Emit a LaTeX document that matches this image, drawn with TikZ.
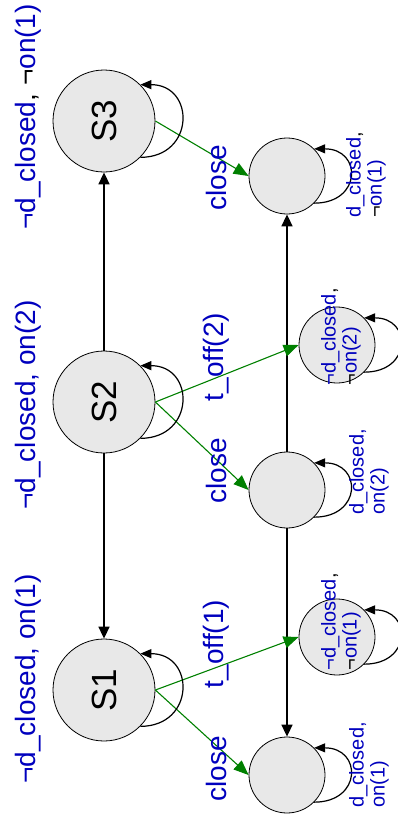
\documentclass[tikz,border=0pt]{standalone}
\usepackage{fontspec}
\usepackage{graphicx}
\setmainfont{Liberation Sans}
\usetikzlibrary{arrows.meta}

\definecolor{lblue}{RGB}{0,0,190}
\definecolor{egreen}{RGB}{0,128,0}
\definecolor{sfill}{RGB}{232,232,232}
\newcommand{\bneg}{\textcolor{black}{¬}}
\newcommand{\bcom}{\textcolor{black}{,}}
\newcommand{\up}[1]{\rotatebox{90}{#1}}

\begin{document}
\begin{tikzpicture}[x=1pt, y=-1pt,
  big/.style={circle, draw, fill=sfill, minimum size=102pt, inner sep=0pt, line width=0.8pt, font=\fontsize{35}{40}\selectfont},
  small/.style={circle, draw, fill=sfill, minimum size=76pt, inner sep=0pt, line width=0.8pt},
  lbl/.style={text=lblue, rotate=90, inner sep=0pt, font=\fontsize{28}{32}\selectfont},
  slbl/.style={text=lblue, rotate=90, align=left, inner sep=0pt, font=\fontsize{20}{21}\selectfont},
  tr/.style={-{Triangle[length=12pt,width=11pt]}, line width=1.6pt},
  grn/.style={-{Triangle[length=15pt,width=12pt]}, color=egreen, line width=1.1pt},
  lp/.style={-{Triangle[length=11pt,width=9pt]}, line width=1.2pt}]
  \useasboundingbox (0,0) rectangle (398,817);

  % states
  \node[big] (S3) at (104,121) {\up{S3}};
  \node[big] (S2) at (104,402) {\up{S2}};
  \node[big] (S1) at (104,690) {\up{S1}};
  \node[small] (K3) at (287,176) {};
  \node[small] (K2) at (287,490) {};
  \node[small] (K1) at (287,775) {};
  \node[small] (O2) at (337,345) {};
  \node[small] (O1) at (337,637) {};

  % transitions
  \draw[tr] (S2) -- (S3);
  \draw[tr] (S2) -- (S1);
  \draw[tr] (K2) -- (K3);
  \draw[tr] (K2) -- (K1);

  \draw[grn] (S3.east) -- (K3.west);
  \draw[grn] (S2.east) -- (O2.west);
  \draw[grn] (S2.east) -- (K2.west);
  \draw[grn] (S1.east) -- (O1.west);
  \draw[grn] (S1.east) -- (K1.west);

  % self loops
  \foreach \s in {S1,S2,S3}
    \draw[lp] (\s.-45) .. controls +(55,0) and +(55,0) .. (\s.45);
  \foreach \s in {K1,K2,K3,O1,O2}
    \draw[lp] (\s.-45) .. controls +(48,0) and +(48,0) .. (\s.45);

  % labels
  \node[lbl] (L3) at (28,117) {¬d\_closed\bcom{} \bneg{}on(1)};
  \node[lbl] (L2) at (28,405) {¬d\_closed, on(2)};
  \node[lbl] (L1) at (28,679) {¬d\_closed, on(1)};

  \node[lbl] (c3) at (216,178) {close};
  \node[lbl] (t2) at (216,357) {t\_off(2)};
  \node[lbl] (c2) at (216,471) {close};
  \node[lbl] (t1) at (216,644) {t\_off(1)};
  \node[lbl] (c1) at (216,769) {close};

  \node[slbl] (k3) at (366,175) {d\_closed\bcom\\\bneg{}on(1)};
  \node[slbl] (o2) at (341,337) {¬d\_closed\bcom\\\bneg{}on(2)};
  \node[slbl] (k2) at (369,472) {d\_closed,\\on(2)};
  \node[slbl] (o1) at (341,622) {¬d\_closed\bcom\\\bneg{}on(1)};
  \node[slbl] (k1) at (369,765) {d\_closed,\\on(1)};
\end{tikzpicture}
\end{document}
